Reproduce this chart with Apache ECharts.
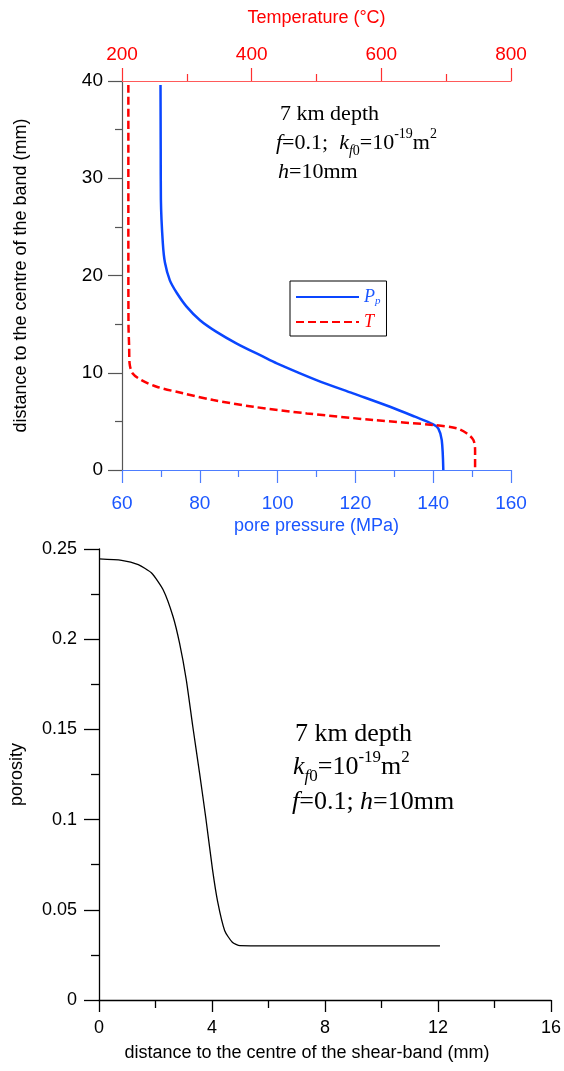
<!DOCTYPE html>
<html>
<head>
<meta charset="utf-8">
<script src="https://cdn.jsdelivr.net/npm/echarts@6/dist/echarts.min.js"></script>
<style>
html,body{margin:0;padding:0;background:#fff;}
#chart{width:564px;height:1071px;}
</style>
</head>
<body>
<div id="chart"></div>
<script>
// ---- Data ----
// Top panel: pore pressure profile (MPa vs distance mm)
const ppPressure = [69.9, 69.95, 70.0, 70.5, 71.05, 72.3, 74.1, 76.6, 80.05, 84.3, 89.5, 96.3, 99.8, 110, 119.4, 128.9, 135.3, 140, 141.3, 142.2, 142.6];
const ppDistance = [39.6, 33.0, 27.8, 23.3, 21.3, 19.5, 18.2, 16.8, 15.4, 14.2, 13.0, 11.65, 10.97, 9.25, 7.88, 6.5, 5.48, 4.7, 4.29, 3.08, 0];
// Top panel: temperature profile (°C vs distance mm)
const tTemperature = [209.8, 209.8, 210.0, 211.0, 211.7, 216.5, 230, 253.5, 294.6, 340.9, 402.6, 485, 587.8, 680, 716, 731.6, 742, 744.6, 744.6];
const tDistance = [39.6, 25, 15, 12.7, 10.97, 9.93, 9.25, 8.56, 7.88, 7.19, 6.5, 5.82, 5.14, 4.63, 4.29, 3.77, 3.08, 2.05, 0];
// Bottom panel: porosity vs distance (mm)
const poroDistance = [0, 0.8, 1.39, 1.86, 2.27, 2.62, 2.85, 3.09, 3.32, 3.56, 3.79, 4.02, 4.2, 4.45, 4.72, 4.99, 6.07, 12.07];
const poroValue = [0.2445, 0.2437, 0.2413, 0.2367, 0.2274, 0.2126, 0.1979, 0.1775, 0.1516, 0.1258, 0.0998, 0.0721, 0.0545, 0.0384, 0.032, 0.0301, 0.0300, 0.0300];

// Axis tick settings
const pressureTicks = {min: 60, max: 160, interval: 20};
const tempTicks = {min: 200, max: 800, interval: 200};
const bandTicks = {min: 0, max: 40, interval: 10};
const shearTicks = {min: 0, max: 16, interval: 4};
const poroTicks = {min: 0, max: 0.25, interval: 0.05};

const zip = (a, b) => a.map((v, i) => [v, b[i]]);

const BLUE = '#0a46ff';
const BLUE_TXT = '#1a56ff';
const RED = '#ff0000';
const SANS = 'Liberation Sans, Arial, sans-serif';
const SERIF = 'Liberation Serif, Times New Roman, serif';

const chart = echarts.init(document.getElementById('chart'), null, {renderer: 'canvas'});

function serifRich(size, color) {
  return {
    n: {fontFamily: SERIF, fontSize: size, color: color, lineHeight: Math.round(size * 1.4)},
    i: {fontFamily: SERIF, fontSize: size, fontStyle: 'italic', color: color, lineHeight: Math.round(size * 1.4)},
    sup: {fontFamily: SERIF, fontSize: Math.round(size * 0.65), color: color, verticalAlign: 'top', lineHeight: Math.round(size * 0.75)},
    subi: {fontFamily: SERIF, fontSize: Math.round(size * 0.65), fontStyle: 'italic', color: color, verticalAlign: 'bottom', lineHeight: Math.round(size * 0.75)},
    sub: {fontFamily: SERIF, fontSize: Math.round(size * 0.65), color: color, verticalAlign: 'bottom', lineHeight: Math.round(size * 0.75)}
  };
}

const option = {
  backgroundColor: '#fff',
  animation: false,
  grid: [
    {left: 122, right: 53, top: 81, height: 389},
    {left: 97, right: 11, top: 549, bottom: 71}
  ],
  legend: {
    left: 290, top: 281,
    orient: 'vertical',
    borderColor: '#000', borderWidth: 1,
    padding: [7, 6, 5, 5],
    itemWidth: 63, itemHeight: 14, itemGap: 6,
    itemTextGap: 6,
    itemStyle: {opacity: 0},
    data: ['Pp', 'T'],
    formatter: function (name) { return name === 'Pp' ? '{pb|P}{ps|p}' : '{tr|T}'; },
    textStyle: {
      rich: {
        pb: {fontFamily: SERIF, fontStyle: 'italic', fontSize: 18, color: BLUE_TXT, lineHeight: 20},
        ps: {fontFamily: SERIF, fontStyle: 'italic', fontSize: 11, color: BLUE_TXT, verticalAlign: 'bottom', lineHeight: 12},
        tr: {fontFamily: SERIF, fontStyle: 'italic', fontSize: 18, color: RED, lineHeight: 20}
      }
    }
  },
  xAxis: [
    {
      type: 'value', gridIndex: 0, position: 'bottom',
      min: pressureTicks.min, max: pressureTicks.max, interval: pressureTicks.interval,
      name: 'pore pressure (MPa)', nameLocation: 'middle', nameGap: 47,
      nameTextStyle: {color: BLUE_TXT, fontSize: 18, fontFamily: SANS},
      axisLine: {onZero: false, lineStyle: {color: '#4d7dff', width: 1.2}},
      axisTick: {length: 13, lineStyle: {color: '#4d7dff', width: 1.2}},
      minorTick: {show: true, splitNumber: 2, length: 7, lineStyle: {color: '#4d7dff', width: 1.2}},
      axisLabel: {color: BLUE_TXT, fontSize: 19, fontFamily: SANS, margin: 24},
      splitLine: {show: false}
    },
    {
      type: 'value', gridIndex: 0, position: 'top',
      min: tempTicks.min, max: tempTicks.max, interval: tempTicks.interval,
      name: 'Temperature (°C)', nameLocation: 'middle', nameGap: 54,
      nameTextStyle: {color: RED, fontSize: 18, fontFamily: SANS},
      axisLine: {onZero: false, lineStyle: {color: '#ff5a5a', width: 1.2}},
      axisTick: {length: 13, lineStyle: {color: '#ff3030', width: 1.2}},
      minorTick: {show: true, splitNumber: 2, length: 7, lineStyle: {color: '#ff3030', width: 1.2}},
      axisLabel: {color: RED, fontSize: 19, fontFamily: SANS, margin: 17},
      splitLine: {show: false}
    },
    {
      type: 'value', gridIndex: 1, position: 'bottom',
      min: shearTicks.min, max: shearTicks.max, interval: shearTicks.interval,
      name: 'distance to the centre of the shear-band (mm)', nameLocation: 'middle', nameGap: 44,
      nameTextStyle: {color: '#000', fontSize: 18, fontFamily: SANS, padding: [0, 36, 0, 0]},
      axisLine: {onZero: false, lineStyle: {color: '#000', width: 1.3}},
      axisTick: {length: 12, lineStyle: {color: '#000', width: 1.3}},
      minorTick: {show: true, splitNumber: 2, length: 8, lineStyle: {color: '#000', width: 1.3}},
      axisLabel: {color: '#000', fontSize: 18, fontFamily: SANS, margin: 19},
      splitLine: {show: false}
    }
  ],
  yAxis: [
    {
      type: 'value', gridIndex: 0,
      min: bandTicks.min, max: bandTicks.max, interval: bandTicks.interval,
      name: 'distance to the centre of the band (mm)', nameLocation: 'middle', nameGap: 92,
      nameTextStyle: {color: '#000', fontSize: 18, fontFamily: SANS},
      axisLine: {onZero: false, lineStyle: {color: '#555', width: 1.2}},
      axisTick: {length: 14, lineStyle: {color: '#555', width: 1.2}},
      minorTick: {show: true, splitNumber: 2, length: 7, lineStyle: {color: '#555', width: 1.2}},
      axisLabel: {color: '#000', fontSize: 19, fontFamily: SANS, margin: 19},
      splitLine: {show: false}
    },
    {
      type: 'value', gridIndex: 1,
      min: poroTicks.min, max: poroTicks.max, interval: poroTicks.interval,
      name: 'porosity', nameLocation: 'middle', nameGap: 73,
      nameTextStyle: {color: '#000', fontSize: 18, fontFamily: SANS},
      axisLine: {onZero: false, lineStyle: {color: '#000', width: 1.3}},
      axisTick: {length: 15, lineStyle: {color: '#000', width: 1.3}},
      minorTick: {show: true, splitNumber: 2, length: 8, lineStyle: {color: '#000', width: 1.3}},
      axisLabel: {color: '#000', fontSize: 18, fontFamily: SANS, margin: 22},
      splitLine: {show: false}
    }
  ],
  series: [
    {
      name: 'Pp', type: 'line', xAxisIndex: 0, yAxisIndex: 0,
      data: zip(ppPressure, ppDistance),
      showSymbol: false, symbol: 'none', smooth: 0.3,
      lineStyle: {color: BLUE, width: 2.5}, itemStyle: {color: BLUE}
    },
    {
      name: 'T', type: 'line', xAxisIndex: 1, yAxisIndex: 0,
      data: zip(tTemperature, tDistance),
      showSymbol: false, symbol: 'none', smooth: 0.3,
      lineStyle: {color: RED, width: 2.5, type: [8, 4]}, itemStyle: {color: RED}
    },
    {
      name: 'porosity', type: 'line', xAxisIndex: 2, yAxisIndex: 1,
      data: zip(poroDistance, poroValue),
      showSymbol: false, symbol: 'none', smooth: 0.2,
      lineStyle: {color: '#000', width: 1.3}, itemStyle: {color: '#000'}
    }
  ],
  graphic: [
    {type: 'text', x: 280, y: 114, style: {text: '{n|7 km depth}', rich: serifRich(22, '#000'), verticalAlign: 'middle'}},
    {type: 'text', x: 276, y: 143, style: {text: '{i|f}{n|=0.1;  }{i|k}{subi|f}{sub|0}{n|=10}{sup|-19}{n|m}{sup|2}', rich: serifRich(22, '#000'), verticalAlign: 'middle'}},
    {type: 'text', x: 278, y: 172, style: {text: '{i|h}{n|=10mm}', rich: serifRich(22, '#000'), verticalAlign: 'middle'}},
    {type: 'text', x: 295, y: 734, style: {text: '{n|7 km depth}', rich: serifRich(26, '#000'), verticalAlign: 'middle'}},
    {type: 'text', x: 293, y: 767, style: {text: '{i|k}{subi|f}{sub|0}{n|=10}{sup|-19}{n|m}{sup|2}', rich: serifRich(26, '#000'), verticalAlign: 'middle'}},
    {type: 'text', x: 292, y: 802, style: {text: '{i|f}{n|=0.1; }{i|h}{n|=10mm}', rich: serifRich(26, '#000'), verticalAlign: 'middle'}}
  ]
};
chart.setOption(option);
</script>
</body>
</html>
